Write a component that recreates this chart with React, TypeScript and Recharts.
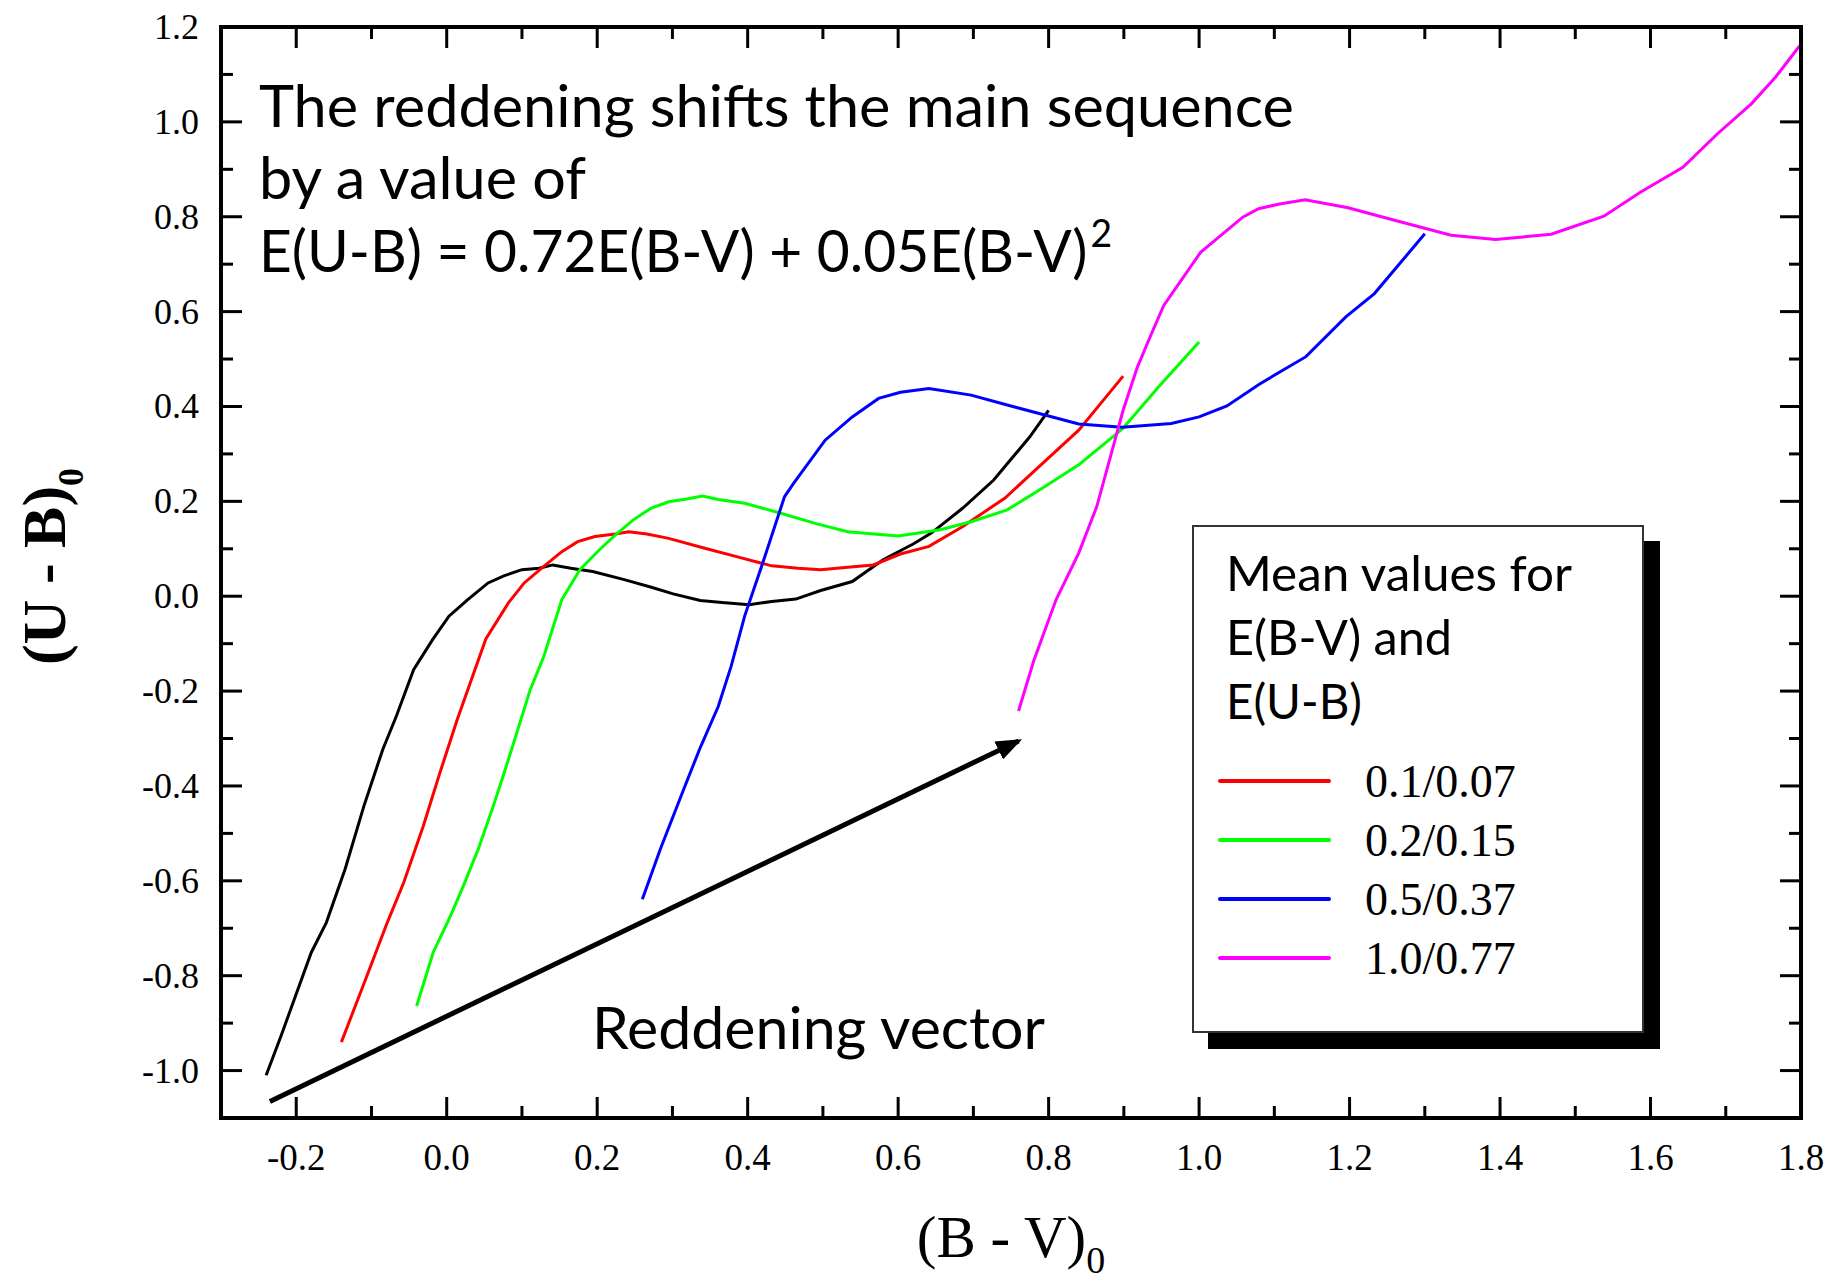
// ReddeningChart.tsx
import React from "react";
import { LineChart, Line, XAxis, YAxis, Legend, Customized } from "recharts";

const FONT_SERIF = '"Liberation Serif", "Times New Roman", serif';
const FONT_SANS = 'Lato, "Open Sans", sans-serif';

// axis ticks (major every 0.2, minor in between)
const xTicks = [-0.2, -0.1, 0, 0.1, 0.2, 0.3, 0.4, 0.5, 0.6, 0.7, 0.8, 0.9, 1.0, 1.1, 1.2, 1.3, 1.4, 1.5, 1.6, 1.7, 1.8];
const yTicks = [-1.0, -0.9, -0.8, -0.7, -0.6, -0.5, -0.4, -0.3, -0.2, -0.1, 0, 0.1, 0.2, 0.3, 0.4, 0.5, 0.6, 0.7, 0.8, 0.9, 1.0, 1.1, 1.2];

// intrinsic main sequence
const blackX = [-0.24, -0.22, -0.18, -0.16, -0.135, -0.11, -0.085, -0.067, -0.044, -0.019, 0.003, 0.028, 0.055, 0.076, 0.1, 0.123, 0.141, 0.165, 0.194, 0.236, 0.272, 0.301, 0.337, 0.366, 0.402, 0.432, 0.464, 0.497, 0.539, 0.58, 0.62, 0.644, 0.686, 0.727, 0.775, 0.8];
const blackY = [-1.01, -0.926, -0.751, -0.688, -0.575, -0.442, -0.323, -0.253, -0.155, -0.092, -0.042, -0.007, 0.028, 0.043, 0.056, 0.059, 0.066, 0.059, 0.052, 0.035, 0.019, 0.005, -0.009, -0.013, -0.018, -0.011, -0.006, 0.012, 0.031, 0.077, 0.11, 0.133, 0.186, 0.245, 0.336, 0.392];

const redX = [-0.14, -0.106, -0.079, -0.057, -0.031, -0.009, 0.014, 0.052, 0.082, 0.103, 0.129, 0.153, 0.174, 0.197, 0.224, 0.242, 0.266, 0.295, 0.343, 0.384, 0.432, 0.467, 0.497, 0.533, 0.567, 0.603, 0.641, 0.686, 0.742, 0.792, 0.84, 0.869, 0.899];
const redY = [-0.94, -0.8, -0.688, -0.603, -0.484, -0.372, -0.26, -0.09, -0.014, 0.028, 0.063, 0.094, 0.115, 0.126, 0.131, 0.136, 0.131, 0.122, 0.101, 0.084, 0.064, 0.059, 0.056, 0.061, 0.066, 0.089, 0.105, 0.147, 0.207, 0.28, 0.35, 0.406, 0.464];

const greenX = [-0.04, -0.018, 0.005, 0.022, 0.042, 0.062, 0.075, 0.089, 0.111, 0.129, 0.153, 0.177, 0.203, 0.224, 0.248, 0.272, 0.295, 0.319, 0.34, 0.361, 0.396, 0.444, 0.491, 0.533, 0.568, 0.6, 0.656, 0.697, 0.745, 0.792, 0.84, 0.869, 0.899, 0.946, 1.0];
const greenY = [-0.864, -0.751, -0.674, -0.611, -0.533, -0.442, -0.379, -0.309, -0.197, -0.127, -0.007, 0.056, 0.098, 0.129, 0.161, 0.186, 0.199, 0.205, 0.211, 0.204, 0.196, 0.175, 0.153, 0.136, 0.131, 0.127, 0.14, 0.157, 0.182, 0.228, 0.277, 0.315, 0.354, 0.441, 0.536];

const blueX = [0.26, 0.284, 0.315, 0.337, 0.361, 0.378, 0.396, 0.42, 0.449, 0.461, 0.503, 0.539, 0.574, 0.603, 0.641, 0.697, 0.745, 0.795, 0.84, 0.898, 0.963, 1.0, 1.037, 1.08, 1.142, 1.195, 1.233, 1.3];
const blueY = [-0.639, -0.533, -0.407, -0.319, -0.232, -0.148, -0.042, 0.07, 0.21, 0.238, 0.329, 0.378, 0.417, 0.43, 0.438, 0.424, 0.403, 0.382, 0.363, 0.356, 0.364, 0.378, 0.401, 0.447, 0.505, 0.589, 0.638, 0.764];

const magentaX = [0.76, 0.78, 0.81, 0.84, 0.864, 0.884, 0.899, 0.918, 0.935, 0.953, 1.002, 1.058, 1.079, 1.107, 1.141, 1.198, 1.261, 1.335, 1.394, 1.468, 1.538, 1.587, 1.643, 1.689, 1.734, 1.766, 1.798];
const magentaY = [-0.242, -0.137, -0.007, 0.091, 0.189, 0.305, 0.392, 0.483, 0.547, 0.613, 0.725, 0.799, 0.817, 0.827, 0.836, 0.819, 0.792, 0.761, 0.752, 0.763, 0.801, 0.852, 0.904, 0.975, 1.038, 1.094, 1.16];

// reddening vector (start / end)
const arrowX = [-0.235, 0.76];
const arrowY = [-1.065, -0.305];

const toPoints = (xs: number[], ys: number[]) => xs.map((x, i) => ({ x, y: ys[i] }));

const series = [
  { name: "0.1/0.07", color: "#ff0000", points: toPoints(redX, redY) },
  { name: "0.2/0.15", color: "#00ff00", points: toPoints(greenX, greenY) },
  { name: "0.5/0.37", color: "#0000ff", points: toPoints(blueX, blueY) },
  { name: "1.0/0.77", color: "#ff00ff", points: toPoints(magentaX, magentaY) },
];

const isMajor = (v: number) => Math.round(v * 10) % 2 === 0;

const BottomTick = ({ x, y, payload }: any) => {
  const major = isMajor(payload.value);
  return (
    <g>
      <line x1={x} x2={x} y1={y} y2={y - (major ? 21 : 12)} stroke="#000" strokeWidth={3} />
      {major && (
        <text x={x} y={y + 52} textAnchor="middle" fontFamily={FONT_SERIF} fontSize={37} fill="#000">
          {payload.value.toFixed(1)}
        </text>
      )}
    </g>
  );
};

const TopTick = ({ x, y, payload }: any) => (
  <line x1={x} x2={x} y1={y} y2={y + (isMajor(payload.value) ? 21 : 12)} stroke="#000" strokeWidth={3} />
);

const LeftTick = ({ x, y, payload }: any) => {
  const major = isMajor(payload.value);
  return (
    <g>
      <line x1={x} x2={x + (major ? 21 : 12)} y1={y} y2={y} stroke="#000" strokeWidth={3} />
      {major && (
        <text x={x - 22} y={y + 12} textAnchor="end" fontFamily={FONT_SERIF} fontSize={36} fill="#000">
          {payload.value.toFixed(1)}
        </text>
      )}
    </g>
  );
};

const RightTick = ({ x, y, payload }: any) => (
  <line x1={x} x2={x - (isMajor(payload.value) ? 21 : 12)} y1={y} y2={y} stroke="#000" strokeWidth={3} />
);

const XTitle = ({ viewBox }: any) => (
  <text
    x={viewBox.x + viewBox.width / 2}
    y={viewBox.y + 139}
    textAnchor="middle"
    fontFamily={FONT_SERIF}
    fontSize={59}
    fill="#000"
  >
    (B - V)<tspan fontSize={38} dy={16}>0</tspan>
  </text>
);

const YTitle = ({ viewBox }: any) => {
  const cx = viewBox.x + 65;
  const cy = viewBox.y + viewBox.height / 2 - 6;
  return (
    <text
      x={cx}
      y={cy}
      transform={`rotate(-90 ${cx} ${cy})`}
      textAnchor="middle"
      fontFamily={FONT_SERIF}
      fontWeight="bold"
      fontSize={62}
      fill="#000"
    >
      (U - B)<tspan fontSize={36} dy={18}>0</tspan>
    </text>
  );
};

const Notes = () => (
  <g fontFamily={FONT_SANS} fill="#000" fontSize={58}>
    <text x={259} y={127} textLength={1035} lengthAdjust="spacingAndGlyphs">
      The reddening shifts the main sequence
    </text>
    <text x={259} y={199} textLength={327} lengthAdjust="spacingAndGlyphs">
      by a value of
    </text>
    <text x={259} y={272} textLength={853} lengthAdjust="spacingAndGlyphs">
      E(U-B) = 0.72E(B-V) + 0.05E(B-V)
      <tspan dy={-25} dx={3} fontSize={38}>2</tspan>
    </text>
    <text x={592} y={1049} textLength={453} lengthAdjust="spacingAndGlyphs">
      Reddening vector
    </text>
  </g>
);

const LegendBox = ({ payload }: any) => {
  const items = (payload || []).filter((p: any) => p.type !== "none");
  return (
    <div
      style={{
        position: "relative",
        width: 452,
        height: 508,
        boxSizing: "border-box",
        background: "#fff",
        border: "2px solid #333",
        boxShadow: "16px 16px 0 0 #000",
      }}
    >
      <svg width={448} height={504} style={{ position: "absolute", left: 0, top: 0 }}>
        <g fontFamily={FONT_SANS} fontSize={48} fill="#000">
          <text x={32} y={64} textLength={346} lengthAdjust="spacingAndGlyphs">Mean values for</text>
          <text x={32} y={128} textLength={226} lengthAdjust="spacingAndGlyphs">E(B-V) and</text>
          <text x={32} y={192} textLength={136} lengthAdjust="spacingAndGlyphs">E(U-B)</text>
        </g>
        {items.map((p: any, i: number) => (
          <g key={p.value}>
            <line x1={26} x2={135} y1={254 + i * 59} y2={254 + i * 59} stroke={p.color} strokeWidth={4} strokeLinecap="round" />
            <text x={171} y={270 + i * 59} fontFamily={FONT_SERIF} fontSize={46} fill="#000">
              {p.value}
            </text>
          </g>
        ))}
      </svg>
    </div>
  );
};

const App: React.FC = () => {
  return (
    <div style={{ position: "absolute", left: 0, top: 0, width: 1827, height: 1283, background: "#fff" }}>
      <svg width={0} height={0} style={{ position: "absolute" }}>
        <defs>
          <marker id="arrowHead" markerUnits="userSpaceOnUse" markerWidth={26} markerHeight={20} refX={22} refY={10} orient="auto">
            <path d="M0,0 L26,10 L0,20 z" fill="#000" />
          </marker>
        </defs>
      </svg>
      <LineChart width={1827} height={1283} margin={{ top: 26, right: 25, bottom: 0, left: 0 }}>
        <XAxis
          xAxisId="b"
          type="number"
          dataKey="x"
          domain={[-0.3, 1.8]}
          allowDataOverflow
          ticks={xTicks}
          interval={0}
          height={165}
          tickSize={0}
          tickMargin={0}
          tickLine={false}
          tick={BottomTick}
          axisLine={{ stroke: "#000", strokeWidth: 4, strokeLinecap: "square" }}
          label={<XTitle />}
        />
        <XAxis
          xAxisId="t"
          orientation="top"
          type="number"
          dataKey="x"
          domain={[-0.3, 1.8]}
          allowDataOverflow
          ticks={xTicks}
          interval={0}
          height={1}
          tickSize={0}
          tickMargin={0}
          tickLine={false}
          tick={TopTick}
          axisLine={{ stroke: "#000", strokeWidth: 4, strokeLinecap: "square" }}
        />
        <YAxis
          yAxisId="l"
          type="number"
          dataKey="y"
          domain={[-1.1, 1.2]}
          allowDataOverflow
          ticks={yTicks}
          interval={0}
          width={221}
          tickSize={0}
          tickMargin={0}
          tickLine={false}
          tick={LeftTick}
          axisLine={{ stroke: "#000", strokeWidth: 4, strokeLinecap: "square" }}
          label={<YTitle />}
        />
        <YAxis
          yAxisId="r"
          orientation="right"
          type="number"
          dataKey="y"
          domain={[-1.1, 1.2]}
          allowDataOverflow
          ticks={yTicks}
          interval={0}
          width={1}
          tickSize={0}
          tickMargin={0}
          tickLine={false}
          tick={RightTick}
          axisLine={{ stroke: "#000", strokeWidth: 4, strokeLinecap: "square" }}
        />
        <Line
          xAxisId="b"
          yAxisId="l"
          data={toPoints(blackX, blackY)}
          dataKey="y"
          name="main sequence"
          type="linear"
          stroke="#000"
          strokeWidth={3}
          dot={false}
          legendType="none"
          isAnimationActive={false}
        />
        {series.map((s) => (
          <Line
            key={s.name}
            xAxisId="b"
            yAxisId="l"
            data={s.points}
            dataKey="y"
            name={s.name}
            type="linear"
            stroke={s.color}
            strokeWidth={3}
            dot={false}
            isAnimationActive={false}
          />
        ))}
        <Line
          xAxisId="b"
          yAxisId="l"
          data={toPoints(arrowX, arrowY)}
          dataKey="y"
          name="reddening vector"
          type="linear"
          stroke="#000"
          strokeWidth={5}
          dot={false}
          legendType="none"
          markerEnd="url(#arrowHead)"
          isAnimationActive={false}
        />
        <Customized component={Notes} />
        <Legend
          layout="vertical"
          align="center"
          verticalAlign="middle"
          wrapperStyle={{ left: 1192, top: 525, width: 452, height: 508 }}
          content={LegendBox}
        />
      </LineChart>
    </div>
  );
};

export default App;
